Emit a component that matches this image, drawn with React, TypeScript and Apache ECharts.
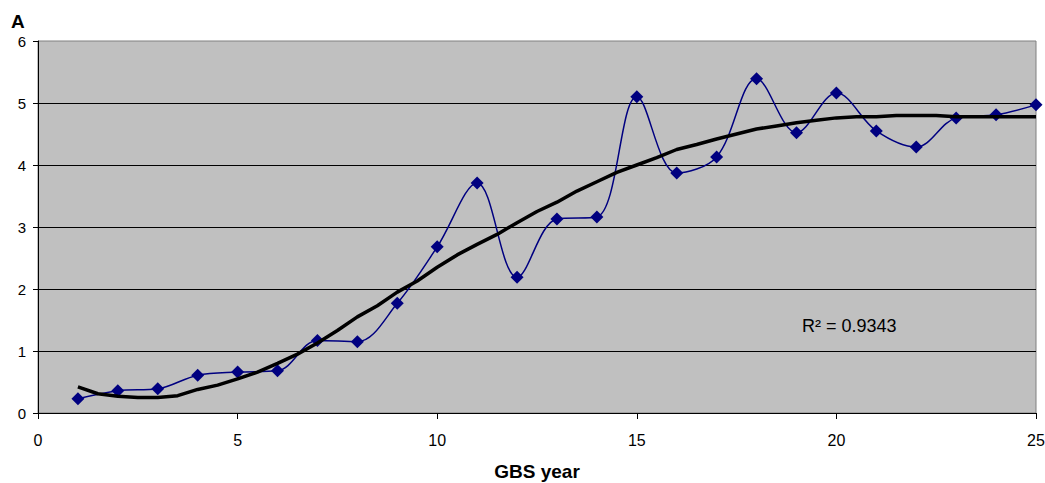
import React, { useEffect, useRef } from "react";
import * as echarts from "echarts";

const years = [1, 2, 3, 4, 5, 6, 7, 8, 9, 10, 11, 12, 13, 14, 15, 16, 17, 18, 19, 20, 21, 22, 23, 24, 25];
const values = [0.23, 0.36, 0.39, 0.61, 0.66, 0.68, 1.17, 1.15, 1.77, 2.68, 3.71, 2.19, 3.13, 3.16, 5.1, 3.87, 4.13, 5.39, 4.52, 5.16, 4.55, 4.29, 4.76, 4.81, 4.97];

const trendX = [1, 1.5, 2, 2.5, 3, 3.5, 4, 4.5, 5, 5.5, 6, 6.5, 7, 7.5, 8, 8.5, 9, 9.5, 10, 10.5, 11, 11.5, 12, 12.5, 13, 13.5, 14, 14.5, 15, 15.5, 16, 16.5, 17, 17.5, 18, 18.5, 19, 19.5, 20, 20.5, 21, 21.5, 22, 22.5, 23, 24, 25];
const trendY = [0.42, 0.31, 0.27, 0.25, 0.25, 0.28, 0.38, 0.45, 0.55, 0.66, 0.8, 0.95, 1.13, 1.33, 1.55, 1.73, 1.95, 2.13, 2.35, 2.55, 2.72, 2.88, 3.07, 3.25, 3.4, 3.58, 3.73, 3.88, 4.0, 4.12, 4.25, 4.33, 4.42, 4.5, 4.58, 4.63, 4.68, 4.72, 4.76, 4.78, 4.78, 4.8, 4.8, 4.8, 4.78, 4.78, 4.78];

const gridLevels = [1, 2, 3, 4, 5];

export default function App() {
  const ref = useRef<HTMLDivElement>(null);
  useEffect(() => {
    if (!ref.current) return;
    const chart = echarts.init(ref.current, null, { renderer: "svg" });
    const font = "'Liberation Sans', Arial, sans-serif";
    chart.setOption({
      animation: false,
      backgroundColor: "#ffffff",
      textStyle: { fontFamily: font },
      grid: {
        left: 38,
        right: 9,
        top: 41,
        bottom: 70,
        show: true,
        containLabel: false,
        outerBoundsMode: "none",
        backgroundColor: "#C0C0C0",
        borderColor: "#808080",
        borderWidth: 1,
      },
      xAxis: {
        type: "value",
        min: 0,
        max: 25,
        interval: 5,
        name: "GBS year",
        nameLocation: "middle",
        nameGap: 49,
        nameTextStyle: { fontFamily: font, fontSize: 19, fontWeight: "bold", color: "#000" },
        axisLine: { show: true, lineStyle: { color: "#000", width: 1 } },
        axisTick: { show: true, length: 6, lineStyle: { color: "#000" } },
        axisLabel: { fontSize: 16, color: "#000", margin: 19, fontFamily: font },
        splitLine: { show: false },
      },
      yAxis: {
        type: "value",
        min: 0,
        max: 6,
        interval: 1,
        axisLine: { show: true, lineStyle: { color: "#000", width: 1 } },
        axisTick: { show: true, length: 5, lineStyle: { color: "#000" } },
        axisLabel: { fontSize: 15, color: "#000", margin: 12, fontFamily: font },
        splitLine: { show: false },
      },
      graphic: [
        {
          type: "text",
          left: 11,
          top: 12,
          style: { text: "A", font: `bold 19px ${font}`, fill: "#000" },
        },
        {
          type: "text",
          left: 802,
          top: 317,
          style: { text: "R² = 0.9343", font: `18px ${font}`, fill: "#000" },
        },
      ],
      series: [
        {
          type: "line",
          data: years.map((x, i) => [x, values[i]]),
          smooth: 0.35,
          symbol: "diamond",
          symbolSize: 13,
          itemStyle: { color: "#000080" },
          lineStyle: { color: "#000080", width: 1.5 },
          z: 3,
          markLine: {
            silent: true,
            symbol: "none",
            label: { show: false },
            lineStyle: { color: "#000", width: 1, type: "solid" },
            data: gridLevels.map((v) => ({ yAxis: v })),
            z: 1,
          },
        },
        {
          type: "line",
          data: trendX.map((x, i) => [x, trendY[i]]),
          symbol: "none",
          lineStyle: { color: "#000", width: 3.5 },
          z: 4,
        },
      ],
    });
    return () => chart.dispose();
  }, []);
  return <div ref={ref} style={{ position: "absolute", left: 0, top: 0, width: 1045, height: 483 }} />;
}
